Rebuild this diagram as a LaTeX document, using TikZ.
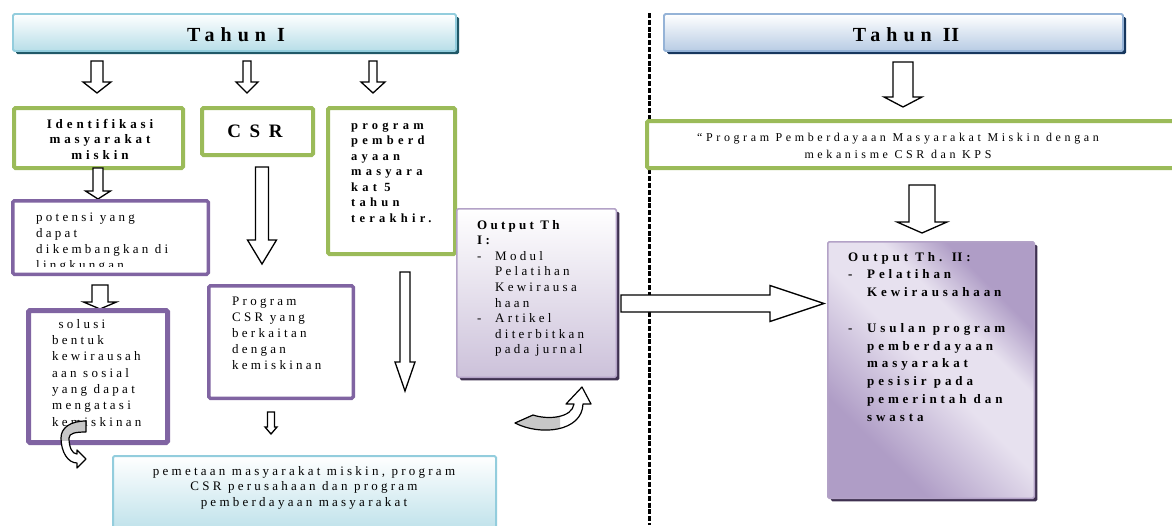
\documentclass[tikz,border=0pt]{standalone}
\usepackage{fontspec}
\setmainfont{Liberation Serif}
\newfontfamily\fr[LetterSpace=25]{Liberation Serif}
\newfontfamily\fb[LetterSpace=30]{Liberation Serif}
\newfontfamily\fp[LetterSpace=34]{Liberation Serif}
\newfontfamily\fc[LetterSpace=45]{Liberation Serif}
\usetikzlibrary{shadows}
\definecolor{grn}{HTML}{9BBB59}
\definecolor{pur}{HTML}{8064A2}
\definecolor{lbb}{HTML}{93CDDD}
\definecolor{lbf}{HTML}{B7DEE8}
\definecolor{tsh}{HTML}{215968}
\definecolor{bbb}{HTML}{95B3D7}
\definecolor{bbf}{HTML}{B8CCE4}
\definecolor{bsh}{HTML}{17375E}
\definecolor{pbb}{HTML}{B3A2C7}
\definecolor{pbf}{HTML}{CCC1DA}
\definecolor{psh}{HTML}{3F3151}
\definecolor{pdk}{HTML}{AF9DC6}
\definecolor{plt}{HTML}{E7E1EF}
\pgfdeclarehorizontalshading{purpband}{100bp}{color(0bp)=(pdk); color(30bp)=(pdk); color(50bp)=(plt); color(62bp)=(plt); color(72bp)=(pdk); color(100bp)=(pdk)}
\newcommand\blkdown[6]{%
  \draw[blk] ({#1-#4},#2) -- ({#1+#4},#2) -- ({#1+#4},{#3-#6}) -- ({#1+#5},{#3-#6}) -- (#1,#3) -- ({#1-#5},{#3-#6}) -- ({#1-#4},{#3-#6}) -- cycle;}
\tikzset{
  box/.style={inner sep=0pt, rounded corners=1.5pt},
  greenbox/.style={box, draw=grn, line width=4pt, fill=white},
  purbox/.style={box, draw=pur, line width=3.5pt, fill=white},
  blk/.style={draw=black, fill=white, line width=1.3pt, line join=miter},
  txt/.style={inner sep=0pt, anchor=north west, align=left},
  ctxt/.style={inner sep=0pt, anchor=north, align=center},
  curv/.style={line width=1.2pt, line join=round},
}
\begin{document}
\begin{tikzpicture}[x=1pt,y=-1pt]
\useasboundingbox (0,0) rectangle (1172,525);
\fill[white] (0,0) rectangle (1172,525);

% divider
\coordinate (dtop) at (649,13);
\coordinate (dbot) at (649,525);
\draw[line width=3pt, dash pattern=on 5pt off 1.8pt] (dtop) -- (dbot);

% headers
\node[box, draw=lbb, line width=1.8pt, top color=white, bottom color=lbf,
  drop shadow={shadow xshift=3pt, shadow yshift=-3pt, opacity=1, fill=tsh},
  minimum width=443pt, minimum height=37pt] (th1) at (234.5,32.5) {};
\node[anchor=base, inner sep=0pt, font=\fontsize{20}{24}\selectfont\fb\bfseries] (th1t) at (236,41.5) {Tahun I};
\node[box, draw=bbb, line width=1.8pt, top color=white, bottom color=bbf,
  drop shadow={shadow xshift=3pt, shadow yshift=-3pt, opacity=1, fill=bsh},
  minimum width=459pt, minimum height=37pt] (th2) at (893.5,32.5) {};
\node[anchor=base, inner sep=0pt, font=\fontsize{20}{24}\selectfont\fb\bfseries] (th2t) at (906,41.5) {Tahun I\kern0.8pt I};

% top arrows
\blkdown{97}{61}{93}{6}{14}{11}
\blkdown{247}{61}{93}{4}{11}{11}
\blkdown{373}{61}{93}{4}{12}{11}

% green boxes
\node[greenbox, minimum width=169pt, minimum height=60pt] (ident) at (98.5,138) {};
\node[ctxt, font=\fontsize{13}{15.5}\selectfont\fb\bfseries] (identt) at (100,117) {\strut Identifikasi\\masyarakat\\miskin};
\node[greenbox, minimum width=111pt, minimum height=47pt] (csr) at (257.5,131.5) {};
\node[anchor=base, inner sep=0pt, font=\fontsize{19}{22}\selectfont\fc\bfseries] (csrt) at (255,137) {CSR};
\node[greenbox, minimum width=127pt, minimum height=146pt] (prog) at (391.5,181) {};
\node[txt, font=\fontsize{12.5}{15.5}\selectfont\fp\bfseries] (progt) at (351,118) {\strut program\\pemberd\\ayaan\\masyara\\kat 5\\tahun\\terakhir.};

% second row
\blkdown{98}{168}{199}{5}{12.5}{8}
\node[purbox, minimum width=195.5pt, minimum height=73.5pt] (pot) at (110.5,237.5) {};
\begin{scope}
\clip (13,201) rectangle (208,266);
\node[txt, font=\fontsize{13}{16}\selectfont\fr] (pott) at (36,209.8) {\strut potensi yang\\dapat\\dikembangkan di\\lingkungan};
\end{scope}
\blkdown{262}{167}{264}{6.5}{14.5}{24}
\blkdown{405}{272}{391}{5}{10}{29}

% third row
\blkdown{100}{285}{309}{8}{16.5}{7}
\node[purbox, line width=5pt, minimum width=139pt, minimum height=132pt] (sol) at (98,376.5) {};
\node[txt, font=\fontsize{13}{16.3}\selectfont\fr] (solt) at (52,316.6) {\strut\ solusi\\bentuk\\kewirausah\\aan sosial\\yang dapat\\mengatasi\\kemiskinan};
\node[purbox, minimum width=144.5pt, minimum height=112.5pt] (pcsr) at (281,342) {};
\node[txt, font=\fontsize{13}{16}\selectfont\fr] (pcsrt) at (232,293.8) {\strut Program\\CSR yang\\berkaitan\\dengan\\kemiskinan};
\blkdown{271}{412}{434}{3.5}{6}{7}

% bottom box
\node[box, draw=lbb, line width=2pt, top color=white, bottom color=lbf,
  minimum width=383pt, minimum height=83pt] (bot) at (304.5,497.5) {};
\node[ctxt, font=\fontsize{13}{15.5}\selectfont\fr] (bott) at (304,464) {\strut pemetaan masyarakat miskin, program\\CSR perusahaan dan program\\pemberdayaan masyarakat};

% output I
\node[box, draw=pbb, line width=1.5pt, top color=white, bottom color=pbf,
  drop shadow={shadow xshift=3pt, shadow yshift=-3pt, opacity=1, fill=psh},
  minimum width=159.5pt, minimum height=168.5pt] (out1) at (536.5,293) {};
\node[txt, font=\fontsize{13}{15.6}\selectfont\fr] (out1t) at (477,218) {\strut\textbf{Output Th}\\\textbf{I:}\\\makebox[18pt][l]{-}Modul\\\hspace*{18pt}Pelatihan\\\hspace*{18pt}Kewirausa\\\hspace*{18pt}haan\\\makebox[18pt][l]{-}Artikel\\\hspace*{18pt}diterbitkan\\\hspace*{18pt}pada jurnal};

% horizontal arrow
\draw[blk] (621,295) -- (770,295) -- (770,285.5) -- (824,303.5) -- (770,321.5) -- (770,312) -- (621,312) -- cycle;

% right column
\blkdown{903}{62}{107}{10}{19}{10}
\node[greenbox, minimum width=541pt, minimum height=47pt] (pgr) at (917.5,144.5) {};
\node[ctxt, font=\fontsize{12}{17}\selectfont\fb] (pgrt) at (898,129) {\strut “Program Pemberdayaan Masyarakat Miskin dengan\\mekanisme CSR dan KPS};
\blkdown{922}{185}{233}{13}{25}{11}
\node[box, draw=pbb, line width=1.5pt, shading=purpband, shading angle=45,
  drop shadow={shadow xshift=3pt, shadow yshift=-3pt, opacity=1, fill=psh},
  minimum width=206.5pt, minimum height=256.5pt] (out2) at (931,370) {};
\node[txt, font=\fontsize{13}{17.8}\selectfont\fb\bfseries] (out2t) at (848,248.5) {\strut Output Th. I\kern0.5pt I:\\\makebox[19pt][l]{-}Pelatihan\\\hspace*{19pt}Kewirausahaan\\[17.8pt]\makebox[19pt][l]{-}Usulan program\\\hspace*{19pt}pemberdayaan\\\hspace*{19pt}masyarakat\\\hspace*{19pt}pesisir pada\\\hspace*{19pt}pemerintah dan\\\hspace*{19pt}swasta};

% curved arrow near solusi
\begin{scope}
\path[fill=white] (86,421) .. controls (70,421) and (61,428) .. (61,438) .. controls (61,452) and (68,463) .. (77,463) -- (77,468) -- (86,459) -- (77,450) -- (77,454) .. controls (72,454) and (69,447) .. (69,438) .. controls (69,433) and (76,432) .. (86,432) -- cycle;
\clip (50,415) rectangle (90,440);
\path[fill=black!22] (86,421) .. controls (70,421) and (61,428) .. (61,438) .. controls (61,452) and (68,463) .. (77,463) -- (77,468) -- (86,459) -- (77,450) -- (77,454) .. controls (72,454) and (69,447) .. (69,438) .. controls (69,433) and (76,432) .. (86,432) -- cycle;
\end{scope}
\draw[curv] (86,421) .. controls (70,421) and (61,428) .. (61,438) .. controls (61,452) and (68,463) .. (77,463) -- (77,468) -- (86,459) -- (77,450) -- (77,454) .. controls (72,454) and (69,447) .. (69,438) .. controls (69,433) and (76,432) .. (86,432) -- cycle;

% curved arrow below output I
\begin{scope}
\path[fill=white] (515,423) .. controls (540,436) and (582,432) .. (583,404) -- (591,404) -- (582,387) -- (566,404) -- (574,404) .. controls (572,418) and (548,420) .. (533,415) -- cycle;
\clip (505,400) rectangle (560,440);
\path[fill=black!22] (515,423) .. controls (540,436) and (582,432) .. (583,404) -- (591,404) -- (582,387) -- (566,404) -- (574,404) .. controls (572,418) and (548,420) .. (533,415) -- cycle;
\end{scope}
\draw[curv] (515,423) .. controls (540,436) and (582,432) .. (583,404) -- (591,404) -- (582,387) -- (566,404) -- (574,404) .. controls (572,418) and (548,420) .. (533,415) -- cycle;
\end{tikzpicture}
\end{document}
